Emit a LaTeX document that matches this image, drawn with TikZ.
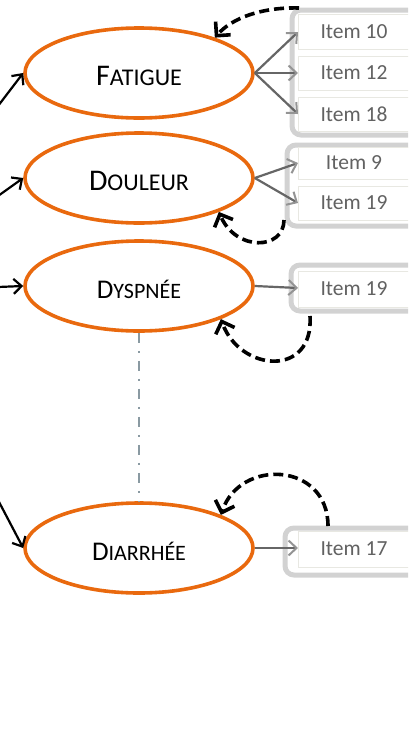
\documentclass[tikz,border=0pt]{standalone}
\usepackage{fontspec}
\setmainfont{Carlito}
\usetikzlibrary{arrows.meta,shapes.geometric}

\definecolor{ringorange}{HTML}{E9690E}
\definecolor{itemtext}{HTML}{626262}
\definecolor{groupline}{HTML}{D2D2D2}
\definecolor{cellline}{HTML}{E8E8E2}
\definecolor{linkgray}{HTML}{666666}
\definecolor{linkhead}{HTML}{949494}
\definecolor{sepline}{HTML}{8A9AA2}

% big initial + reduced capitals, set a little below the centre line
\newcommand\scword[4]{\raisebox{-3pt}[\height][0pt]{{\fontsize{#1}{#1}\selectfont #3}{\fontsize{#2}{#2}\selectfont #4}}}

\tikzset{
  factor/.style={ellipse, draw=ringorange, line width=3.6pt, fill=white,
    minimum width=228pt, minimum height=90pt, inner sep=0pt, text=black},
  groupbox/.style={draw=groupline, line width=5pt, rounded corners=9pt,
    fill=white, inner sep=0pt},
  cell/.style={draw=cellline, line width=1pt, fill=white, minimum width=112pt,
    inner sep=0pt, text=itemtext, font=\fontsize{21.5}{22}\selectfont},
  inlink/.style={draw=black, line width=2.2pt,
    -{Straight Barb[length=8pt,width=15pt,line width=2.2pt]}},
  itemlink/.style={draw=linkgray, line width=2.2pt,
    -{Straight Barb[length=8pt,width=15pt,line width=2pt,color=linkhead]}},
  backlink/.style={draw=black, line width=3.6pt, dash pattern=on 10pt off 5pt,
    -{Straight Barb[length=10pt,width=20pt,line width=3.6pt]}},
  sepdash/.style={draw=sepline, line width=2.2pt,
    dash pattern=on 10pt off 8pt on 2pt off 8pt},
}

\begin{document}
\begin{tikzpicture}[x=1pt,y=-1pt]
\useasboundingbox (0,0) rectangle (408,734);
\clip (0,0) rectangle (408,734);

% the four symptom factors
\node[factor] (fat) at (139,73)  {\scword{30}{24}{F}{ATIGUE}};
\node[factor] (dou) at (139,178) {\scword{30}{24}{D}{OULEUR}};
\node[factor] (dys) at (139,286) {\scword{27}{22}{D}{YSPNÉE}};
\node[factor] (dia) at (139,548) {\scword{27}{22}{D}{IARRHÉE}};

% separator between the upper and the lower factors
\draw[sepdash] (dys.south) -- (dia.north);

% item groups
\node[groupbox, minimum width=140pt, minimum height=125pt] (g1) at (362,72.5) {};
\node[groupbox, minimum width=143pt, minimum height=81pt]  (g2) at (358.5,185.5) {};
\node[groupbox, minimum width=139pt, minimum height=46pt]  (g3) at (360.5,288) {};
\node[groupbox, minimum width=145pt, minimum height=47pt]  (g4) at (357.5,551.5) {};

% links from the factors to their items
\coordinate (t10) at (298,32);
\coordinate (t12) at (298,73);
\coordinate (t18) at (298,114);
\coordinate (t9)  at (298,163);
\coordinate (t19a) at (298,203);
\coordinate (t19b) at (298,288);
\coordinate (t17) at (298,548);
\draw[itemlink] (fat.east) -- (t10);
\draw[itemlink] (fat.east) -- (t12);
\draw[itemlink] (fat.east) -- (t18);
\draw[itemlink] (dou.east) -- (t9);
\draw[itemlink] (dou.east) -- (t19a);
\draw[itemlink] (dys.east) -- (t19b);
\draw[itemlink] (dia.east) -- (t17);

% item cells
\node[cell, minimum height=35pt] (i10) at (354,32)  {Item 10};
\node[cell, minimum height=34pt] (i12) at (354,73)  {Item 12};
\node[cell, minimum height=34pt] (i18) at (354,114) {Item 18};
\node[cell, minimum height=32pt] (i9)  at (354,163) {Item 9};
\node[cell, minimum height=34pt] (i19a) at (354,203) {Item 19};
\node[cell, minimum height=36pt] (i19b) at (354,289) {Item 19};
\node[cell, minimum height=36pt] (i17) at (354,549) {Item 17};

% incoming links from the left
\coordinate (s1) at (-2,106);
\coordinate (s2) at (-2,196);
\coordinate (s3) at (-2,287);
\coordinate (s4) at (-2,500);
\draw[inlink] (s1) -- (fat.west);
\draw[inlink] (s2) -- (dou.west);
\draw[inlink] (s3) -- (dys.west);
\draw[inlink] (s4) -- (dia.west);

% feedback links from the item groups
\coordinate (b1) at (299,8);
\coordinate (b2) at (284,220);
\coordinate (b3) at (310,316);
\coordinate (b4) at (328,526);
\draw[backlink] (b1) .. controls (262,7) and (232,18) .. (fat.25);
\draw[backlink] (b2) .. controls (284,250) and (236,252) .. (dou.-23);
\draw[backlink] (b3) .. controls (314,378) and (240,372) .. (dys.-22);
\draw[backlink] (b4) .. controls (328,462) and (240,458) .. (dia.22);
\end{tikzpicture}
\end{document}
